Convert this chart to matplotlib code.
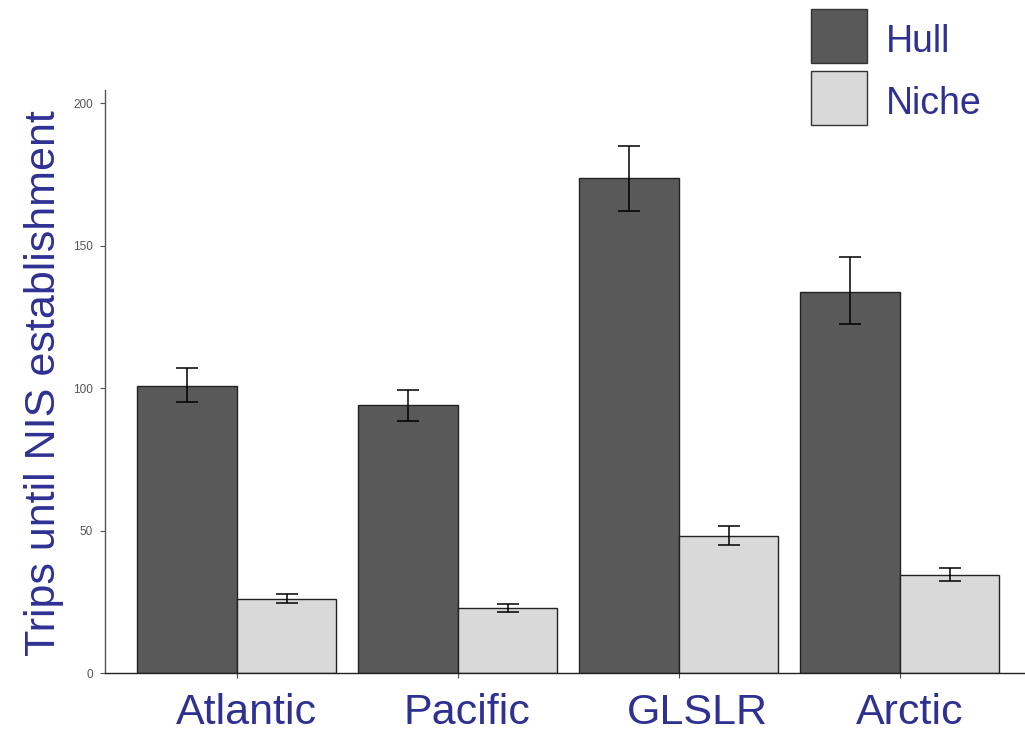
import matplotlib
matplotlib.use("Agg")
import matplotlib.pyplot as plt
from matplotlib.patches import Rectangle
import numpy as np

categories = ["Atlantic", "Pacific", "GLSLR", "Arctic"]
series = ["Hull", "Niche"]
hull_mean = [100.7, 94.0, 173.7, 133.7]
hull_lo = [95.1, 88.4, 162.1, 122.5]
hull_hi = [107.0, 99.3, 184.9, 146.0]
niche_mean = [26.0, 22.8, 48.1, 34.4]
niche_lo = [24.6, 21.4, 44.9, 32.3]
niche_hi = [27.7, 24.2, 51.6, 36.8]
yticks = [0, 50, 100, 150, 200]
ylabel = "Trips until NIS establishment"

blue = "#2E3192"
W, H = 1025, 736
fig = plt.figure(figsize=(W / 100, H / 100), dpi=100)
plt.rcParams['font.family'] = ['Liberation Sans', 'DejaVu Sans']

ax = fig.add_axes([105 / W, (736 - 673) / H, 1 - 105 / W, (673 - 90) / H])

x = np.arange(1, len(categories) + 1)
bw = 0.45
fills = ["#595959", "#D9D9D9"]
means = [hull_mean, niche_mean]
los = [hull_lo, niche_lo]
his = [hull_hi, niche_hi]
for k in range(2):
    pos = x + (k - 0.5) * bw
    m = np.array(means[k])
    lo = np.array(los[k])
    hi = np.array(his[k])
    ax.bar(pos, m, width=bw, color=fills[k], edgecolor="#222222", linewidth=1.0, zorder=2)
    ax.errorbar(pos, m, yerr=[m - lo, hi - m], fmt="none", ecolor="black",
                elinewidth=1.1, capsize=8, capthick=1.1, zorder=3)

ax.set_xlim(0.403, 4.566)
ax.set_ylim(0, 204.6)
ax.set_yticks(yticks)
ax.set_yticklabels([str(t) for t in yticks])
ax.set_xticks(x)
ax.set_xticklabels([])
ax.tick_params(axis="y", labelsize=8.5, colors="#555555", length=3.5, width=0.8, pad=5)
ax.tick_params(axis="x", length=3.5, width=0.8, colors="#4D4D4D")
for s in ["top", "right"]:
    ax.spines[s].set_visible(False)
ax.spines["left"].set_color("#555555")
ax.spines["bottom"].set_color("#222222")
ax.spines["left"].set_linewidth(1.0)
ax.spines["bottom"].set_linewidth(1.0)

# category labels (large, blue)
offs_px = [10, 9, 18.5, 10]
for i, c in enumerate(categories):
    ax.annotate(c, xy=(x[i], 0), xycoords=("data", "axes fraction"),
                xytext=(offs_px[i] * 0.72, -51 * 0.72), textcoords="offset points",
                ha="center", va="baseline", fontsize=31, color=blue)

fig.text(44 / W, 1 - 383.5 / H, ylabel, rotation=90, ha="center", va="center",
         fontsize=31, color=blue)

# legend drawn manually
leg_y_top = [9, 71]
for k in range(2):
    y0 = leg_y_top[k]
    fig.add_artist(Rectangle((811 / W, 1 - (y0 + 54) / H), 56 / W, 54 / H,
                             transform=fig.transFigure, facecolor=fills[k],
                             edgecolor="#333333", linewidth=1.0))
    fig.text(886 / W, 1 - (y0 + 43) / H, series[k], ha="left", va="baseline",
             fontsize=27, color=blue)

fig.savefig("out.png", dpi=100)
